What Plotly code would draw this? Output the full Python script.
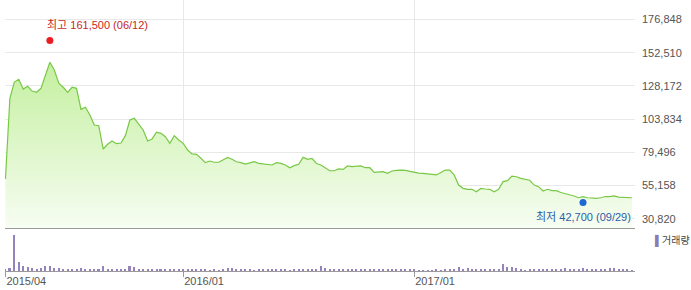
import pandas as pd
import plotly.graph_objects as go

# Weekly (Friday) closing prices, 2015-04-03 .. 2017-12-15
start_date = "2015-04-03"
price = [
    59900, 119100, 131000, 133000, 125900, 127900, 124400, 123500, 126400, 136200,
    145500, 139800, 130100, 127200, 123500, 127200, 126400, 111000, 112500, 106800,
    99500, 99000, 81900, 85400, 87800, 85800, 86300, 91700, 103200, 104400,
    100000, 95900, 87800, 89300, 94200, 93400, 90900, 86100, 91700, 88500,
    86100, 81200, 78300, 78000, 75100, 71900, 73100, 72200, 72200, 73900,
    75800, 74400, 72600, 71900, 70900, 71700, 72600, 71400, 70900, 70200,
    70200, 71900, 71400, 70200, 68200, 69700, 70700, 75800, 74400, 75100,
    71300, 70200, 67800, 66000, 66000, 67300, 67000, 69500, 69000, 69200,
    69500, 68200, 68200, 64800, 65100, 65300, 64100, 65800, 66200, 66500,
    66200, 65400, 64600, 64300, 64100, 63600, 63400, 62900, 64700, 66500,
    66500, 62900, 55500, 53100, 52400, 52400, 50600, 53000, 52600, 52400,
    50600, 52400, 58000, 58700, 62100, 61600, 60400, 59800, 59000, 55500,
    54300, 51100, 52400, 51400, 51400, 50000, 49300, 48700, 47500, 46200,
    47000, 46200, 46000, 45800, 46200, 47100, 47000, 47600, 46700, 46500,
    46400, 46200,
]
# Weekly volume (thousand shares)
volume = [
    90, 160, 2160, 540, 320, 240, 160, 150, 200, 300,
    300, 180, 180, 120, 120, 120, 120, 180, 120, 120,
    120, 150, 300, 150, 120, 120, 120, 120, 300, 240,
    120, 110, 110, 110, 110, 120, 110, 120, 150, 110,
    90, 120, 150, 110, 90, 110, 30, 110, 30, 90,
    180, 180, 120, 110, 110, 110, 30, 110, 110, 110,
    110, 110, 110, 110, 30, 110, 110, 110, 110, 110,
    110, 300, 180, 120, 120, 110, 110, 90, 90, 90,
    90, 90, 90, 90, 90, 90, 90, 90, 90, 90,
    90, 90, 90, 20, 20, 20, 30, 90, 20, 90,
    90, 120, 220, 150, 180, 150, 150, 150, 110, 110,
    110, 120, 450, 240, 270, 180, 120, 30, 90, 110,
    120, 120, 120, 120, 120, 150, 210, 120, 120, 120,
    210, 120, 120, 120, 120, 120, 180, 210, 120, 120,
    90, 30,
]
tick_dates = ["2015-04-03", "2016-01-08", "2017-01-06"]
tick_labels = ["2015/04", "2016/01", "2017/01"]
y_ticks = [30820, 55158, 79496, 103834, 128172, 152510, 176848]
high_date, high_value, high_label = "2015-06-12", 161500, "최고 161,500 (06/12)"
low_date, low_value, low_label = "2017-09-29", 42700, "최저 42,700 (09/29)"

dates = pd.date_range(start_date, periods=len(price), freq="W-FRI")
week = pd.Timedelta(days=7)

FONT = "Liberation Sans, Arial, Noto Sans CJK KR"
fig = go.Figure()

fig.add_trace(go.Scatter(
    x=dates, y=price, mode="lines",
    line=dict(color="#78c846", width=1.2),
    fill="tozeroy",
    fillgradient=dict(type="vertical", start=24000, stop=150000,
                      colorscale=[[0, "#f7fdf2"], [1, "#c2ef9c"]]),
    xaxis="x", yaxis="y", hoverinfo="skip", showlegend=False,
))
fig.add_trace(go.Bar(
    x=dates, y=volume, width=0.45 * 7 * 86400000,
    marker=dict(color="#9484bb", line=dict(width=0)),
    xaxis="x2", yaxis="y2", showlegend=False,
))
fig.add_trace(go.Scatter(
    x=[high_date], y=[high_value], mode="markers",
    marker=dict(color="#ec1c24", size=7), xaxis="x", yaxis="y", showlegend=False,
))
fig.add_trace(go.Scatter(
    x=[low_date], y=[low_value], mode="markers",
    marker=dict(color="#1f67d2", size=7), xaxis="x", yaxis="y", showlegend=False,
))

xr = [dates[0] - 0.1 * week, dates[-1] + 0.7 * week]
fig.update_layout(
    width=691, height=290,
    margin=dict(l=5, r=56, t=0, b=19),
    plot_bgcolor="white", paper_bgcolor="white",
    xaxis=dict(domain=[0, 1], range=xr, anchor="y",
               tickvals=tick_dates, ticktext=tick_labels, showticklabels=False,
               showgrid=True, gridcolor="#e8e8e8", gridwidth=1,
               showline=True, linecolor="#9a9a9a", linewidth=1, zeroline=False),
    yaxis=dict(domain=[43 / 271, 1], range=[24018, 191142], side="right",
               tickvals=y_ticks, ticktext=[f"{v:,}" for v in y_ticks],
               showgrid=True, gridcolor="#e8e8e8", zeroline=False,
               ticks="", ticklabelstandoff=6,
               tickfont=dict(family=FONT, size=11, color="#555555")),
    xaxis2=dict(domain=[0, 1], range=xr, anchor="y2", matches="x",
                tickvals=tick_dates, ticktext=tick_labels,
                ticks="outside", ticklen=5, tickcolor="#9a9a9a",
                ticklabelposition="outside right",
                tickfont=dict(family=FONT, size=11, color="#555555"),
                showgrid=False, showline=True, linecolor="#9a9a9a", zeroline=False),
    yaxis2=dict(domain=[0, 39 / 271], range=[0, 2340], showticklabels=False,
                showgrid=False, zeroline=False, ticks=""),
    bargap=0,
    annotations=[
        dict(x=high_date, y=high_value, xref="x", yref="y", text=high_label,
             showarrow=False, xanchor="left", yanchor="middle", xshift=-5, yshift=15,
             font=dict(family=FONT, size=11, color="#cc1f1f")),
        dict(x=low_date, y=low_value, xref="x", yref="y", text=low_label,
             showarrow=False, xanchor="right", yanchor="middle", xshift=50, yshift=-14,
             font=dict(family=FONT, size=11, color="#2a5ca8")),
        dict(x=1, y=30 / 271, xref="paper", yref="paper",
             text="<span style='color:#8a7ab5'>▌</span>거래량",
             showarrow=False, xanchor="left", yanchor="middle", xshift=18,
             font=dict(family=FONT, size=10, color="#444444")),
    ],
)

fig.write_html("out.html")
